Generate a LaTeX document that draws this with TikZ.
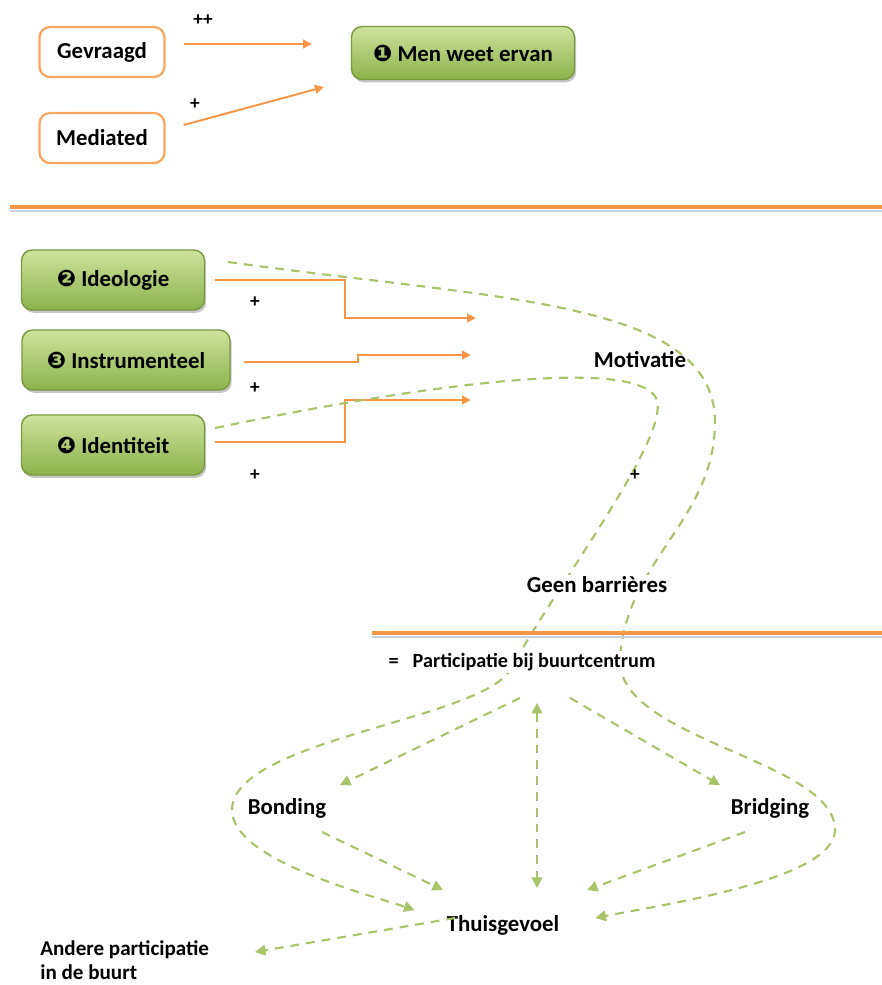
\documentclass[tikz,border=0pt]{standalone}
\usepackage{fontspec}
\setmainfont{Carlito}
\newfontfamily\dingfont{DejaVu Sans}
\usetikzlibrary{arrows.meta,calc,shadows}

\definecolor{boxorange}{HTML}{F79646}
\definecolor{linegreen}{HTML}{A8C46A}
\definecolor{greentop}{HTML}{CDE29C}
\definecolor{greenbot}{HTML}{8DB24C}
\definecolor{greenedge}{HTML}{7A9A3E}

\tikzset{
  orangebox/.style={draw=boxorange!85, line width=1.3pt, rounded corners=6pt, fill=white,
    minimum width=2.5cm, minimum height=1cm, font=\bfseries\fontsize{13}{15}\selectfont},
  greenbox/.style={draw=greenedge, line width=0.8pt, rounded corners=6pt,
    top color=greentop, bottom color=greenbot,
    drop shadow={shadow xshift=1pt, shadow yshift=-1.6pt, opacity=0.45},
    minimum height=1.2cm, font=\bfseries\fontsize{13}{15}\selectfont},
  lbl/.style={font=\bfseries\fontsize{13}{15}\selectfont},
  sign/.style={font=\bfseries\fontsize{11}{13}\selectfont},
  oarrow/.style={draw=boxorange, line width=1.1pt, -{Triangle[length=5pt,width=5pt]}},
  gline/.style={draw=linegreen, line width=1.2pt, dash pattern=on 5pt off 4pt},
  garrow/.style={gline, -{Triangle[length=6pt,width=6pt]}},
  rule/.style={draw=boxorange, line width=2.4pt},
}
\newcommand{\nr}[1]{{\dingfont #1}}

\begin{document}
\begin{tikzpicture}[x=0.02cm,y=-0.02cm]
  \useasboundingbox[fill=white] (0,0) rectangle (882,985);

  %%%%% awareness %%%%%
  \node[orangebox] (gevr) at (102,52) {Gevraagd};
  \node[orangebox] (medi) at (102,138) {Mediated};
  \node[greenbox, minimum width=4.46cm, minimum height=1.06cm] (men) at (463,53) {\nr{❶} Men weet ervan};

  \node[sign] (pp) at (203,20) {++};
  \node[sign] (p0) at (195,104) {+};

  \draw[oarrow] ($(gevr.east)+(18,-8)$) -- ($(men.west)+(-39,-9)$);
  \draw[oarrow] ($(medi.east)+(18,-13)$) -- ($(men.west)+(-27,34)$);

  \draw[line width=1.2pt, blue!8!gray!35] (10,211) -- (882,211);
  \draw[rule] (10,207) -- (882,207);

  %%%%% motivation %%%%%
  \node[greenbox, minimum width=3.66cm] (ideo) at (113,280) {\nr{❷} Ideologie};
  \node[greenbox, minimum width=4.16cm] (instr) at (126,360) {\nr{❸} Instrumenteel};
  \node[greenbox, minimum width=3.66cm] (ident) at (113,445) {\nr{❹} Identiteit};

  \node[lbl] (motiv) at (640,360) {Motivatie};
  \coordinate (m1) at ($(motiv.west)+(-112,-42)$);
  \coordinate (m2) at ($(motiv.west)+(-117,-5)$);
  \coordinate (m3) at ($(motiv.west)+(-117,40)$);

  \draw[oarrow] ($(ideo.east)+(10,0)$) -- ++(130,0) |- (m1);
  \draw[oarrow] ($(instr.east)+(13,2)$) -- ++(114,0) |- (m2);
  \draw[oarrow] ($(ident.east)+(10,-3)$) -- ++(130,0) |- (m3);

  \node[sign] (p1) at (255,302) {+};
  \node[sign] (p2) at (255,388) {+};
  \node[sign] (p3) at (255,475) {+};

  %%%%% participation %%%%%
  \node[lbl] (bond) at (287,808) {Bonding};
  \node[lbl] (brid) at (770,808) {Bridging};
  \node[lbl] (thuis) at (503,925) {Thuisgevoel};
  \node[font=\bfseries\fontsize{12}{14}\selectfont, anchor=west, align=left, inner sep=0pt] (andere) at (40,960) {Andere participatie\\in de buurt};

  % long dashed curves
  \draw[garrow] ($(ideo.east)+(23,-18)$)
     .. controls (500,300) and (712,300) .. (715,420)
     .. controls (716,520) and (625,560) .. (620,660)
     .. controls (618,740) and (835,760) .. (835,830)
     .. controls (835,880) and (660,905) .. ($(thuis.east)+(30,-7)$);
  \draw[garrow] ($(ident.east)+(10,-17)$)
     .. controls (420,385) and (640,355) .. (657,400)
     .. controls (668,440) and (560,580) .. (510,670)
     .. controls (480,720) and (232,740) .. (232,810)
     .. controls (232,860) and (370,895) .. ($(thuis.west)+(-26,-15)$);

  \node[sign] (p4) at (635,475) {+};

  \draw[line width=1.2pt, blue!8!gray!35] (372,637) -- (882,637);
  \draw[rule] (372,633) -- (882,633);

  \node[lbl, fill=white, inner sep=1pt] (geen) at (597,585) {Geen barrières};
  \node[font=\bfseries\fontsize{11.5}{13}\selectfont, fill=white, inner sep=1pt] (part) at (522,662) {=\hspace{0.7em}Participatie bij buurtcentrum};

  \draw[garrow] ($(part.south)+(-2,25)$) -- ($(bond)+(53,-23)$);
  \draw[garrow] ($(part.south)+(48,25)$) -- ($(brid)+(-50,-23)$);
  \draw[gline, {Triangle[length=6pt,width=6pt]}-{Triangle[length=6pt,width=6pt]}] ($(part.south)+(15,30)$) -- ($(thuis)+(34,-37)$);
  \draw[garrow] ($(bond)+(35,24)$) -- ($(thuis)+(-60,-35)$);
  \draw[garrow] ($(brid)+(-25,24)$) -- ($(thuis)+(84,-35)$);
  \draw[garrow] ($(thuis)+(-48,-7)$) -- ($(andere.west)+(215,-8)$);
\end{tikzpicture}
\end{document}
